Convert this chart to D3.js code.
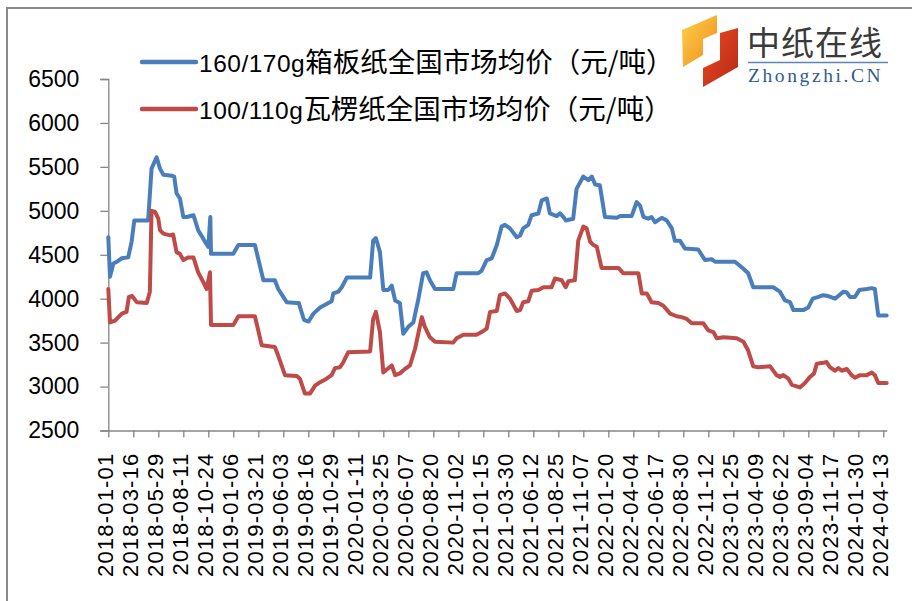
<!DOCTYPE html>
<html><head><meta charset="utf-8">
<script src="https://cdn.jsdelivr.net/npm/d3@7"></script>
<style>html,body{margin:0;padding:0;background:#fff;}svg{display:block;}</style>
</head><body>
<svg id="chart" width="912" height="601"></svg>
<script>
const seriesNames = ["160/170g箱板纸全国市场均价（元/吨）", "100/110g瓦楞纸全国市场均价（元/吨）"];
const seriesColors = ["#4a7ebb", "#be4b48"];

const xTickLabels = ["2018-01-01","2018-03-16","2018-05-29","2018-08-11","2018-10-24","2019-01-06","2019-03-21","2019-06-03","2019-08-16","2019-10-29","2020-01-11","2020-03-25","2020-06-07","2020-08-20","2020-11-02","2021-01-15","2021-03-30","2021-06-12","2021-08-25","2021-11-07","2022-01-20","2022-04-04","2022-06-17","2022-08-30","2022-11-12","2023-01-25","2023-04-09","2023-06-22","2023-09-04","2023-11-17","2024-01-30","2024-04-13"];
const yTicks = [2500,3000,3500,4000,4500,5000,5500,6000,6500];

const blueDates = ["2018-01-01","2018-01-06","2018-01-16","2018-01-26","2018-02-10","2018-03-01","2018-03-11","2018-03-19","2018-04-29","2018-05-09","2018-05-24","2018-06-03","2018-06-13","2018-07-08","2018-07-15","2018-07-22","2018-08-01","2018-08-11","2018-08-21","2018-09-10","2018-09-24","2018-10-14","2018-10-24","2018-10-30","2018-11-01",
"2019-01-06","2019-01-21","2019-03-11","2019-04-05","2019-05-09","2019-05-19","2019-06-13","2019-07-13","2019-07-19","2019-08-03","2019-08-17","2019-08-31","2019-09-20","2019-10-09","2019-10-24","2019-10-29","2019-11-13","2019-11-23","2019-12-08",
"2020-02-15","2020-02-24","2020-03-03","2020-03-15","2020-03-25","2020-04-09","2020-04-19","2020-04-29","2020-05-13","2020-05-23","2020-06-07","2020-06-22","2020-07-07","2020-07-21","2020-07-31","2020-08-10","2020-08-25","2020-10-18","2020-10-28","2020-12-31",
"2021-01-10","2021-01-25","2021-02-09","2021-02-24","2021-03-10","2021-03-20","2021-04-04","2021-04-24","2021-05-04","2021-05-13","2021-05-28","2021-06-07","2021-06-27","2021-07-07","2021-07-22","2021-07-31","2021-08-20","2021-08-30","2021-09-09","2021-09-16","2021-10-08","2021-10-18","2021-11-07","2021-11-22","2021-12-02","2021-12-12","2021-12-26",
"2022-01-10","2022-02-14","2022-02-24","2022-03-30","2022-04-14","2022-04-24","2022-05-04","2022-05-18","2022-05-28","2022-06-07","2022-06-27","2022-07-12","2022-07-27","2022-08-05","2022-08-20","2022-09-04","2022-10-13","2022-11-02","2022-11-22","2022-12-02",
"2023-01-30","2023-02-24","2023-03-10","2023-03-25","2023-05-23","2023-06-12","2023-06-27","2023-07-12","2023-07-22","2023-08-20","2023-09-04","2023-09-17","2023-10-04","2023-10-18","2023-11-02","2023-11-22","2023-12-17","2023-12-27",
"2024-01-05","2024-01-20","2024-02-02","2024-02-24","2024-03-10","2024-03-19","2024-03-29","2024-04-23"];
const blueValues = [4700,4250,4400,4420,4460,4470,4650,4890,4890,5480,5610,5480,5410,5400,5390,5200,5140,4930,4930,4950,4780,4650,4590,4930,4510,
4510,4610,4610,4210,4210,4110,3960,3950,3950,3760,3740,3830,3900,3940,3970,4060,4080,4130,4240,
4240,4660,4690,4530,4100,4100,4150,3980,3950,3600,3680,3730,4000,4290,4300,4210,4110,4110,4290,4290,
4320,4440,4460,4610,4820,4840,4800,4700,4720,4800,4840,4950,4970,5120,5140,4970,4940,4970,4930,4890,4910,5250,5390,5350,5390,5300,5290,
4930,4920,4940,4940,5100,5060,4930,4910,4930,4870,4920,4890,4800,4660,4660,4570,4560,4440,4450,4420,
4420,4340,4290,4130,4130,4080,3980,3960,3870,3870,3900,4000,4020,4040,4030,4000,4080,4070,
4020,4020,4100,4110,4120,4110,3810,3810];

const redDates = ["2018-01-01","2018-01-06","2018-01-21","2018-01-31","2018-02-10","2018-02-24","2018-03-03","2018-03-13","2018-03-26","2018-04-25","2018-05-04","2018-05-09","2018-05-19","2018-05-29","2018-06-03","2018-06-13","2018-07-03","2018-07-12","2018-07-22","2018-08-01","2018-08-11","2018-08-26","2018-09-10","2018-09-24","2018-10-09","2018-10-19","2018-10-29","2018-11-01",
"2019-01-06","2019-01-21","2019-03-11","2019-03-31","2019-05-09","2019-05-19","2019-06-08","2019-07-13","2019-07-22","2019-08-06","2019-08-21","2019-09-05","2019-09-20","2019-10-09","2019-10-24","2019-11-03","2019-11-18","2019-11-28","2019-12-12",
"2020-02-15","2020-02-24","2020-03-03","2020-03-15","2020-03-25","2020-04-06","2020-04-19","2020-04-29","2020-05-13","2020-05-28","2020-06-12","2020-06-27","2020-07-17","2020-07-26","2020-08-10","2020-08-25","2020-10-18","2020-10-28","2020-11-17","2020-12-26",
"2021-01-10","2021-01-25","2021-02-04","2021-02-24","2021-03-05","2021-03-20","2021-04-04","2021-04-24","2021-05-04","2021-05-13","2021-05-28","2021-06-07","2021-06-27","2021-07-12","2021-08-05","2021-08-15","2021-09-04","2021-09-16","2021-09-24","2021-10-13","2021-10-23","2021-11-07","2021-11-17","2021-11-27","2021-12-07","2021-12-17","2021-12-31",
"2022-02-19","2022-03-05","2022-04-19","2022-04-29","2022-05-14","2022-05-28","2022-06-17","2022-07-02","2022-07-22","2022-08-10","2022-08-25","2022-09-09","2022-09-24","2022-10-09","2022-10-28","2022-11-12","2022-11-27","2022-12-07","2022-12-27",
"2023-02-04","2023-02-24","2023-03-10","2023-03-25","2023-04-09","2023-05-14","2023-06-02","2023-06-12","2023-06-22","2023-07-07","2023-07-17","2023-08-10","2023-08-25","2023-09-09","2023-09-21","2023-09-29","2023-10-18","2023-10-28","2023-11-07","2023-11-22","2023-12-02","2023-12-12","2023-12-27",
"2024-01-10","2024-01-20","2024-02-04","2024-02-24","2024-03-10","2024-03-19","2024-03-29","2024-04-23"];
const redValues = [4110,3730,3750,3790,3830,3850,4020,4030,3960,3950,4080,5000,4990,4910,4780,4740,4720,4730,4530,4510,4440,4470,4470,4300,4190,4110,4300,3700,
3700,3800,3800,3470,3450,3350,3130,3120,3090,2920,2920,3010,3050,3090,3130,3210,3220,3280,3390,
3400,3770,3850,3620,3160,3200,3240,3130,3150,3200,3240,3430,3790,3680,3560,3510,3500,3550,3590,3590,
3620,3660,3850,3860,4040,4060,4000,3860,3870,3960,3970,4090,4100,4130,4130,4230,4210,4130,4200,4210,4660,4820,4800,4650,4610,4590,4350,
4350,4290,4290,4060,4060,3960,3950,3920,3830,3800,3790,3770,3720,3720,3720,3640,3620,3550,3560,
3550,3510,3410,3230,3220,3230,3130,3110,3130,3090,3020,2990,3040,3110,3150,3260,3270,3280,3220,3180,3210,3180,3200,
3130,3100,3130,3130,3160,3130,3040,3040];

const parse = d3.timeParse("%Y-%m-%d");
const fmt = d3.timeFormat("%Y-%m-%d");
const svg = d3.select("#chart");

svg.append("rect").attr("x",0).attr("y",0).attr("width",912).attr("height",601).attr("fill","#fff");
// outer chart border
svg.append("rect").attr("x",7).attr("y",8).attr("width",920).attr("height",610)
  .attr("fill","none").attr("stroke","#8a8a8a").attr("stroke-width",2);

const x = d3.scaleTime().domain([parse("2018-01-01"), parse("2024-04-23")]).range([108.3, 886.7]);
const y = d3.scaleLinear().domain([2500, 6500]).range([430.5, 79]);

const axisColor = "#868686";
// Y axis
const gy = svg.append("g").attr("transform","translate(108.3,0)")
  .call(d3.axisLeft(y).tickValues(yTicks).tickSize(8).tickPadding(21).tickFormat(d3.format("d")));
gy.selectAll("path,line").attr("stroke",axisColor).attr("stroke-width",1.3);
gy.selectAll("text").attr("font-family","'Liberation Sans', Arial, sans-serif").attr("font-size",23).attr("fill","#000");

// X axis
const gx = svg.append("g").attr("transform","translate(0,430.5)")
  .call(d3.axisBottom(x).tickValues(xTickLabels.map(parse)).tickSize(7).tickSizeOuter(0).tickFormat(fmt));
gx.selectAll("path,line").attr("stroke",axisColor).attr("stroke-width",1.3);
gx.selectAll("text")
  .attr("font-family","'Liberation Sans', Arial, sans-serif").attr("font-size",22)
  .attr("letter-spacing","1.2px").attr("fill","#000")
  .attr("text-anchor","end").attr("transform","rotate(-90)")
  .attr("x",-22).attr("y",0).attr("dy","4px");

// Lines
const line = d3.line().x(d => x(d.date)).y(d => y(d.value));
const series = [
  blueDates.map((d,i) => ({date: parse(d), value: blueValues[i]})),
  redDates.map((d,i) => ({date: parse(d), value: redValues[i]}))
];
series.forEach((s, i) => {
  svg.append("path").datum(s).attr("d", line)
    .attr("fill","none").attr("stroke", seriesColors[i]).attr("stroke-width",4)
    .attr("stroke-linejoin","round").attr("stroke-linecap","round");
});

// Legend
const legendY = [62, 109];
seriesNames.forEach((name, i) => {
  svg.append("line").attr("x1",142).attr("x2",196).attr("y1",legendY[i]).attr("y2",legendY[i])
    .attr("stroke",seriesColors[i]).attr("stroke-width",4.5).attr("stroke-linecap","round");
  const t = svg.append("text").attr("x",199).attr("y",legendY[i]+10).attr("fill","#000");
  const m = name.match(/^([0-9\/]+g)(.*)$/);
  t.append("tspan").attr("font-family","'Liberation Sans', Arial, sans-serif").attr("font-size",24.5)
    .attr("letter-spacing","0.5px").text(m[1]);
  t.append("tspan").attr("font-family","'Noto Sans CJK SC', sans-serif").attr("font-size",27.5)
    .attr("letter-spacing","0px").text(m[2]);
});

// Logo
const defs = svg.append("defs");
const g1 = defs.append("linearGradient").attr("id","gOrange").attr("x1","0").attr("y1","0").attr("x2","1").attr("y2","1");
g1.append("stop").attr("offset","0").attr("stop-color","#fbd24a");
g1.append("stop").attr("offset","1").attr("stop-color","#f28a1c");
const g2 = defs.append("linearGradient").attr("id","gRed").attr("x1","0").attr("y1","0").attr("x2","1").attr("y2","1");
g2.append("stop").attr("offset","0").attr("stop-color","#e84d1e");
g2.append("stop").attr("offset","1").attr("stop-color","#b8261a");
svg.append("polygon").attr("points","682,30 717,15 717,33 703,39 703,55 683,67").attr("fill","url(#gOrange)");
svg.append("polygon").attr("points","720,33 738,28 738,67 703,87 703,68 720,60").attr("fill","url(#gRed)");
svg.append("text").attr("x",747).attr("y",55).attr("font-family","'Noto Sans CJK SC', sans-serif")
  .attr("font-size",33).attr("letter-spacing","1px").attr("fill","#3a3a3a").text("中纸在线");
svg.append("line").attr("x1",748).attr("x2",888).attr("y1",62.5).attr("y2",62.5).attr("stroke","#5b86b4").attr("stroke-width",1.5);
svg.append("text").attr("x",748).attr("y",82).attr("font-family","'Liberation Serif', 'DejaVu Serif', serif")
  .attr("font-size",19.5).attr("letter-spacing","2.6px").attr("fill","#2e5c8a").text("Zhongzhi.CN");
</script>
</body></html>
